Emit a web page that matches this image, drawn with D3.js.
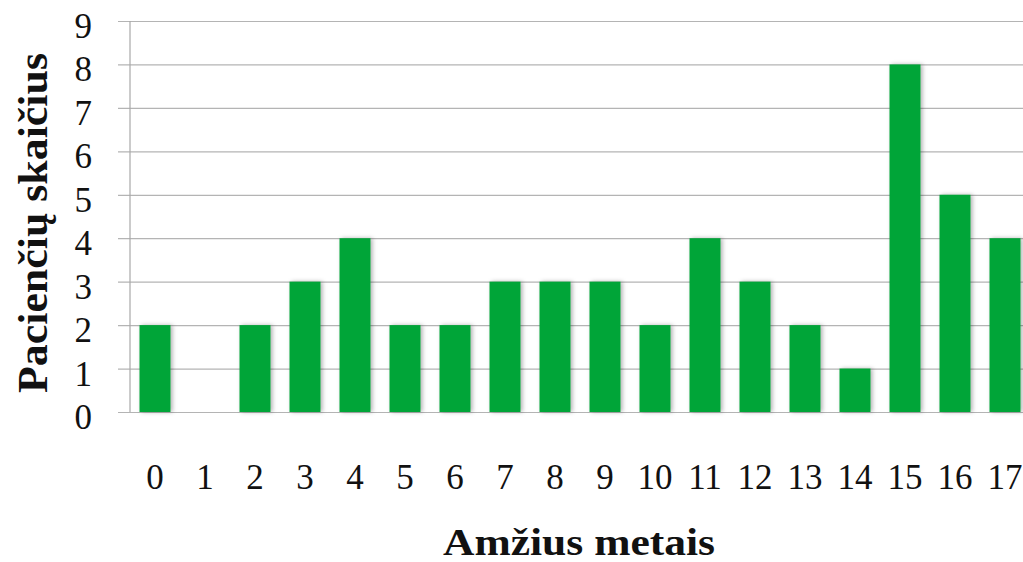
<!DOCTYPE html>
<html>
<head>
<meta charset="utf-8">
<script src="https://cdn.jsdelivr.net/npm/d3@7"></script>
<style>
html,body{margin:0;padding:0;background:#fff;overflow:hidden;}
svg{display:block;}
</style>
</head>
<body>
<svg id="chart" width="1023" height="562"></svg>
<script>
const categories = ["0","1","2","3","4","5","6","7","8","9","10","11","12","13","14","15","16","17"];
const values = [2,0,2,3,4,2,2,3,3,3,2,4,3,2,1,8,5,4];
const yTicks = [0,1,2,3,4,5,6,7,8,9];
const xTitle = "Amžius metais";
const yTitle = "Pacienčių skaičius";

(function(){
const svg = d3.select("#chart");
const mLeft = 130, mRight = 1030, mTop = 21, mBottom = 412;
const font = "'Liberation Serif', 'DejaVu Serif', serif";

const x = d3.scaleBand().domain(categories).range([mLeft, mRight]).paddingInner(0.38).paddingOuter(0.19);
const y = d3.scaleLinear().domain([0, 9]).range([mBottom, mTop]);

const defs = svg.append("defs");
const f = defs.append("filter").attr("id","sh").attr("x","-30%").attr("y","-10%").attr("width","160%").attr("height","120%");
f.append("feDropShadow").attr("dx",2).attr("dy",0).attr("stdDeviation",2).attr("flood-color","#000").attr("flood-opacity",0.3);

// gridlines
const gy = svg.append("g").attr("transform", `translate(1023,0)`)
  .call(d3.axisRight(y).tickValues(yTicks).tickSize(-(1023-118)).tickFormat(""));
gy.select(".domain").remove();
gy.selectAll("line").attr("stroke","#b4b4b4").attr("stroke-width",1.2);

// y labels
const gl = svg.append("g").attr("transform", `translate(${mLeft},0)`)
  .call(d3.axisLeft(y).tickValues(yTicks).tickSize(0).tickPadding(38));
gl.select(".domain").remove();
gl.selectAll("text").attr("font-family", font).attr("font-size", 35).attr("fill","#111").attr("dy","0.47em");

// vertical axis line
svg.append("line").attr("x1",mLeft).attr("x2",mLeft).attr("y1",mTop).attr("y2",mBottom).attr("stroke","#a8a8a8").attr("stroke-width",1.2);

// bars
svg.append("g").selectAll("rect").data(values).join("rect")
  .attr("x",(d,i)=>x(categories[i]))
  .attr("width",x.bandwidth())
  .attr("y",d=>y(d))
  .attr("height",d=>y(0)-y(d))
  .attr("fill","#00a538")
  .attr("filter","url(#sh)");

// x labels
const gx = svg.append("g").attr("transform", `translate(0,${mBottom})`)
  .call(d3.axisBottom(x).tickSize(0).tickPadding(77));
gx.select(".domain").remove();
gx.selectAll("text").attr("font-family", font).attr("font-size", 35).attr("fill","#111").attr("dy","0");

// titles
svg.append("text").attr("x",579).attr("y",555).attr("text-anchor","middle")
  .attr("font-family",font).attr("font-weight","bold").attr("font-size",38).attr("fill","#111")
  .attr("textLength",272).attr("lengthAdjust","spacingAndGlyphs").text(xTitle);
svg.append("text").attr("transform","translate(47,223) rotate(-90)").attr("text-anchor","middle")
  .attr("font-family",font).attr("font-weight","bold").attr("font-size",42).attr("fill","#111")
  .attr("textLength",340).attr("lengthAdjust","spacingAndGlyphs").text(yTitle);
})();
</script>
</body>
</html>
